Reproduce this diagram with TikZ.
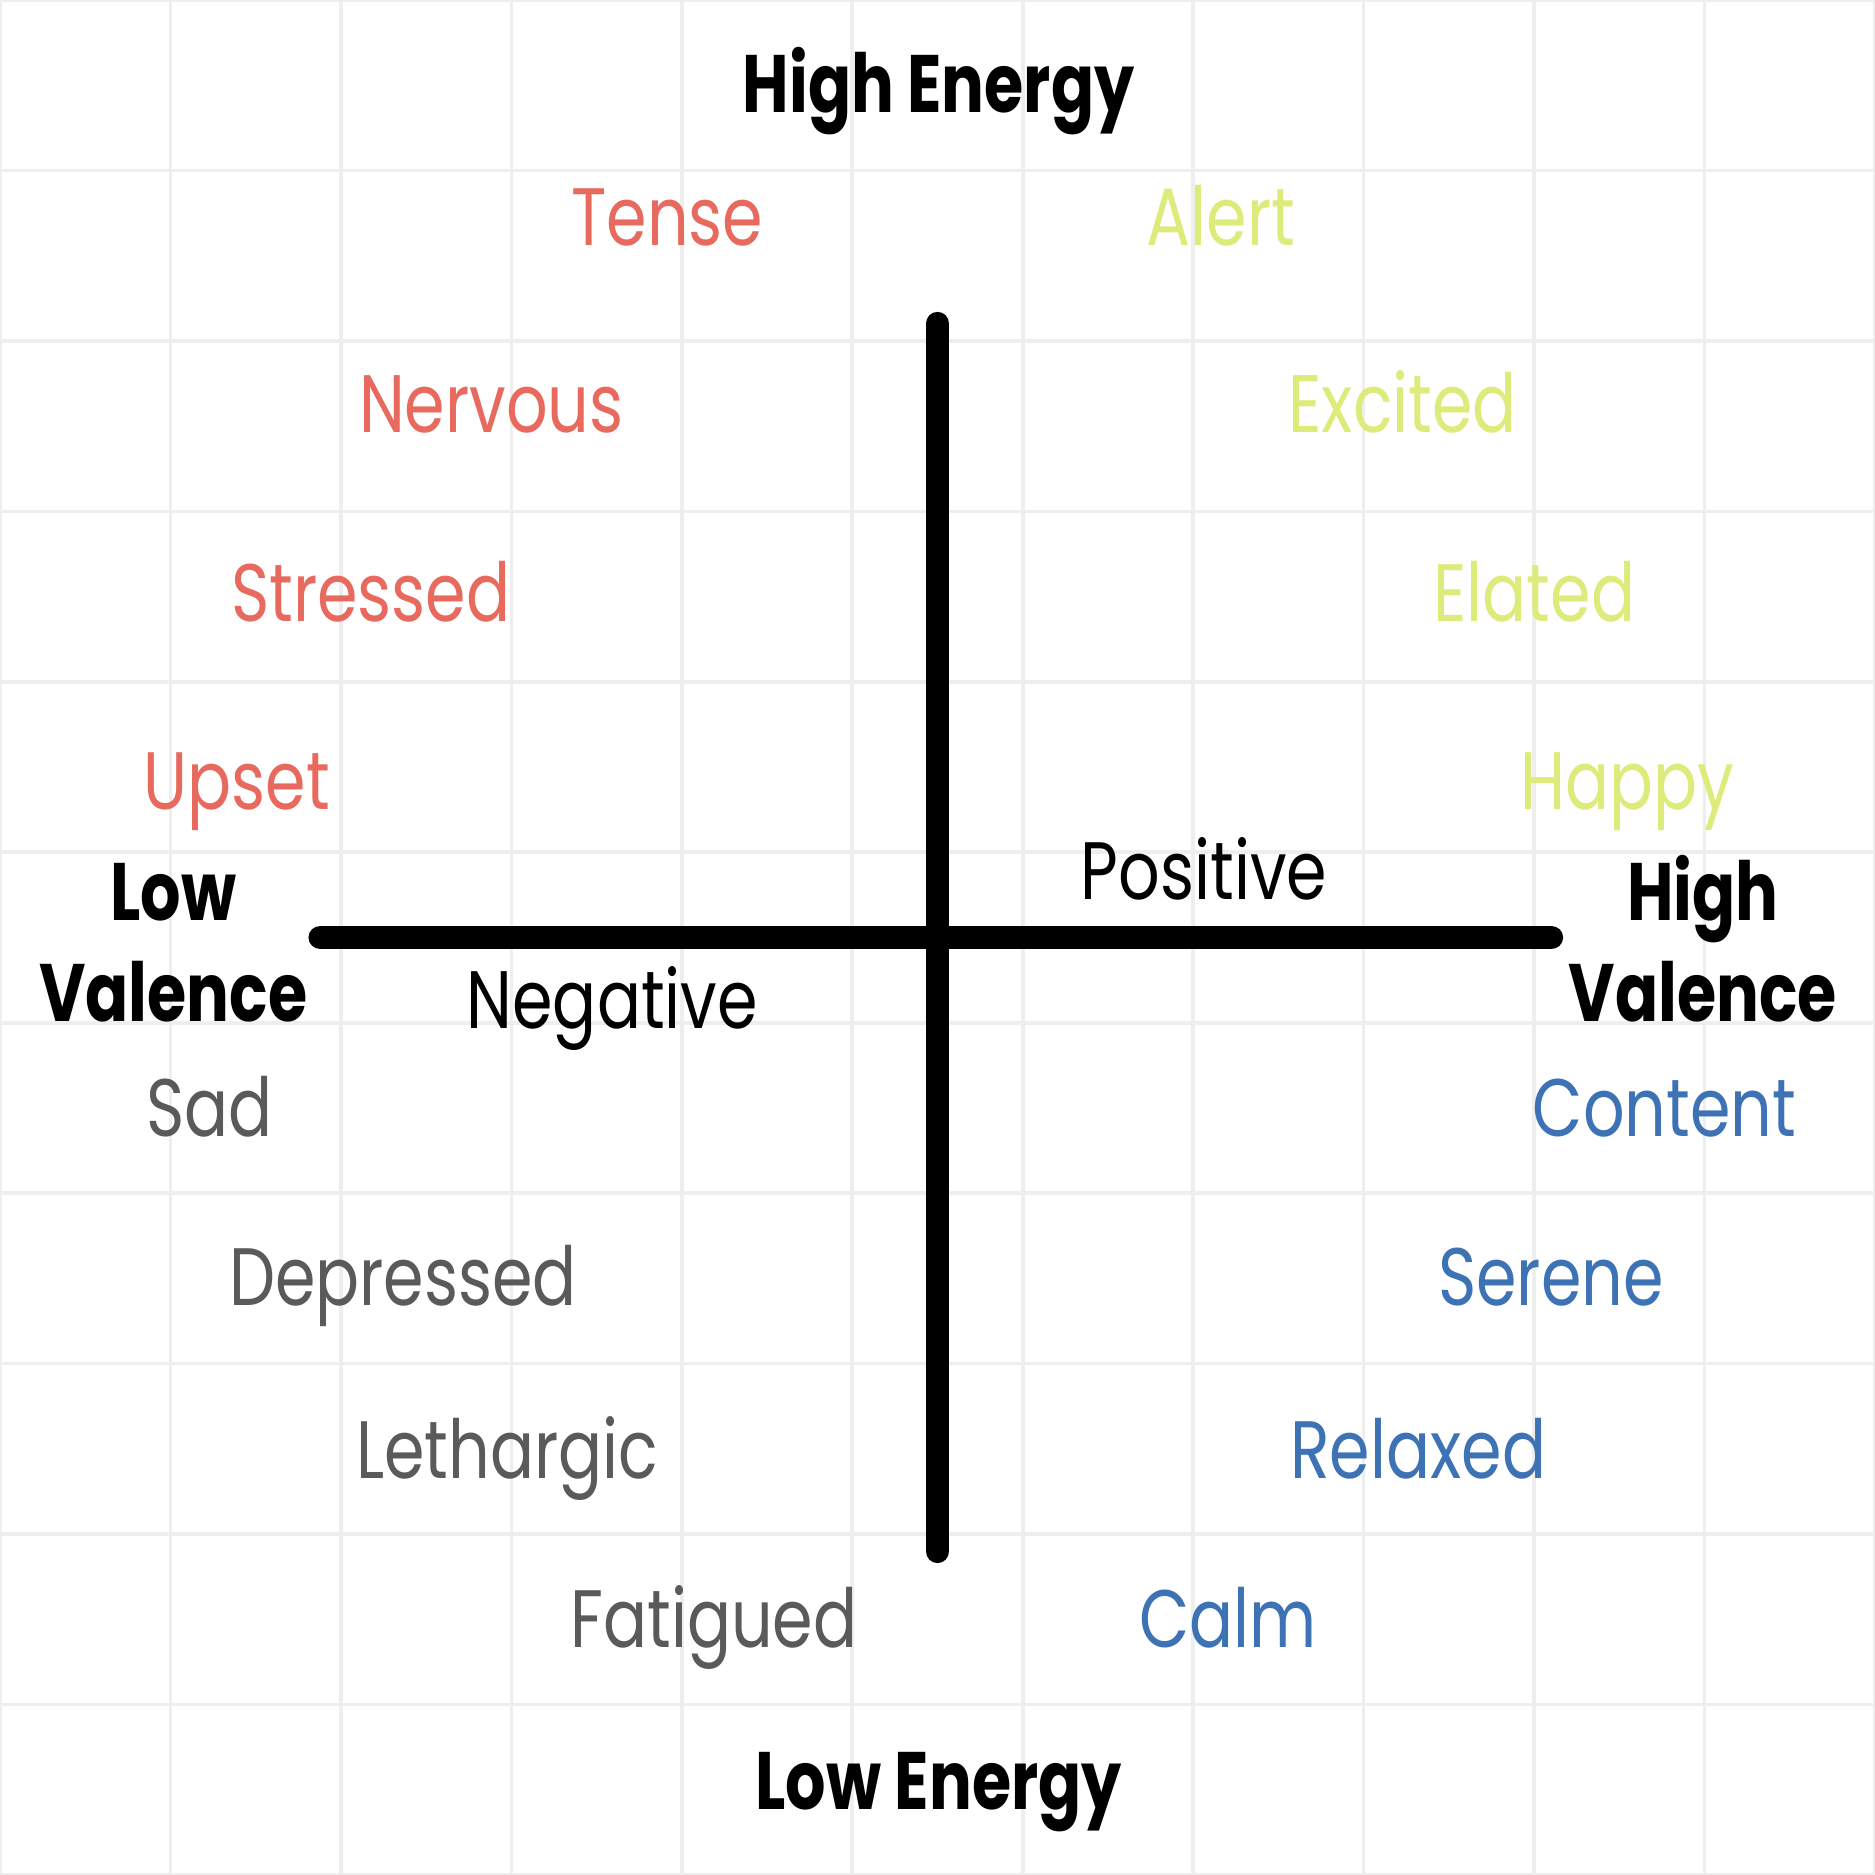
\documentclass[tikz,border=0pt]{standalone}
\usepackage{fontspec}
\setmainfont{Poppins}[FakeStretch=0.80, BoldFeatures={FakeStretch=0.78}]
\usepackage{tikz}
\usetikzlibrary{positioning}

\definecolor{tensered}{HTML}{E8695D}
\definecolor{alertgreen}{HTML}{DDEB7A}
\definecolor{calmblue}{HTML}{3D72B4}
\definecolor{sadgray}{HTML}{5A5A5A}
\definecolor{gridgray}{HTML}{EEEEEE}

\begin{document}
\begin{tikzpicture}[
    word/.style={anchor=base, inner sep=0pt, font=\fontsize{13.6}{16}\selectfont},
    axislabel/.style={word, font=\fontsize{13.6}{16}\selectfont\bfseries},
    axis/.style={line width=4pt, line cap=round},
    gridline/.style={gridgray, line width=0.6pt}
]
    \useasboundingbox (0,0) rectangle (11,11);
    \fill[white] (0,0) rectangle (11,11);
    \draw [gridline] (0,0) grid (11,11);

    % axes
    \coordinate (top) at (5.5,9.1);
    \coordinate (bottom) at (5.5,1.9);
    \coordinate (left) at (1.88,5.5);
    \coordinate (right) at (9.1,5.5);
    \draw [axis] (top) -- (bottom);
    \draw [axis] (left) -- (right);

    % axis labels
    \node (hienergy) [axislabel] at (5.507,10.341) {High Energy};
    \node (loenergy) [axislabel] at (5.507,0.386) {Low Energy};
    \node (lolow) [axislabel] at (1.017,5.598) {Low};
    \node (loval) [axislabel] at (1.017,5.005) {Valence};
    \node (hihigh) [axislabel] at (9.990,5.598) {High};
    \node (hival) [axislabel] at (9.990,5.005) {Valence};
    \node (pos) [word] at (7.064,5.720) {Positive};
    \node (neg) [word] at (3.592,4.967) {Negative};

    % high energy, negative
    \node (tense) [word, tensered] at (3.915,9.562) {Tense};
    \node (nervous) [word, tensered] at (2.883,8.460) {Nervous};
    \node (stressed) [word, tensered] at (2.175,7.352) {Stressed};
    \node (upset) [word, tensered] at (1.389,6.251) {Upset};

    % high energy, positive
    \node (alert) [word, alertgreen] at (7.163,9.562) {Alert};
    \node (excited) [word, alertgreen] at (8.229,8.460) {Excited};
    \node (elated) [word, alertgreen] at (9.001,7.352) {Elated};
    \node (happy) [word, alertgreen] at (9.548,6.251) {Happy};

    % low energy, negative
    \node (sad) [word, sadgray] at (1.228,4.335) {Sad};
    \node (depressed) [word, sadgray] at (2.364,3.339) {Depressed};
    \node (lethargic) [word, sadgray] at (2.975,2.329) {Lethargic};
    \node (fatigued) [word, sadgray] at (4.188,1.333) {Fatigued};

    % low energy, positive
    \node (content) [word, calmblue] at (9.765,4.335) {Content};
    \node (serene) [word, calmblue] at (9.099,3.339) {Serene};
    \node (relaxed) [word, calmblue] at (8.320,2.329) {Relaxed};
    \node (calm) [word, calmblue] at (7.205,1.333) {Calm};
\end{tikzpicture}
\end{document}
